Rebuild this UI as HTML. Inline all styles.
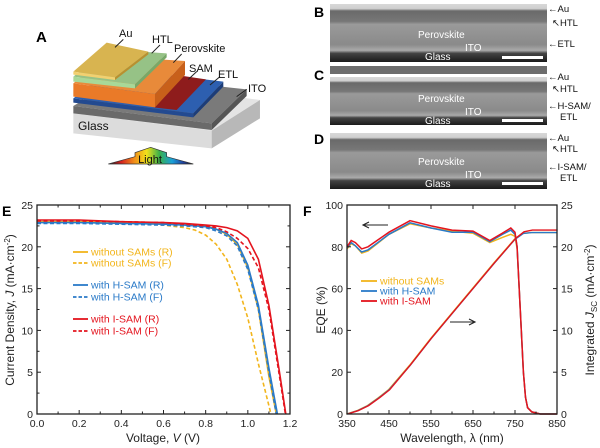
<!DOCTYPE html>
<html><head><meta charset="utf-8">
<style>
html,body{margin:0;padding:0;background:#fff;}
svg{display:block;font-family:"Liberation Sans",Arial,sans-serif;}
</style></head>
<body>
<svg id="fig" width="600" height="448" viewBox="0 0 600 448" xmlns="http://www.w3.org/2000/svg">
<defs>
<linearGradient id="rainbow" x1="0" x2="1" y1="0" y2="0">
<stop offset="0" stop-color="#1a1a1a"/><stop offset="0.15" stop-color="#d42020"/><stop offset="0.3" stop-color="#f08a1a"/><stop offset="0.45" stop-color="#f2e21a"/><stop offset="0.6" stop-color="#3ab04a"/><stop offset="0.75" stop-color="#1aa0d8"/><stop offset="0.88" stop-color="#2040a0"/><stop offset="1" stop-color="#1a1a1a"/>
</linearGradient>
<linearGradient id="semB" x1="0" y1="0" x2="0" y2="1">
<stop offset="0" stop-color="#d8d8d8"/><stop offset="0.08" stop-color="#cfcfcf"/><stop offset="0.12" stop-color="#6a6a6a"/><stop offset="0.3" stop-color="#777"/><stop offset="0.35" stop-color="#9a9a9a"/><stop offset="0.7" stop-color="#8a8a8a"/><stop offset="0.8" stop-color="#aaa"/><stop offset="0.85" stop-color="#444"/><stop offset="1" stop-color="#1a1a1a"/>
</linearGradient>
</defs>

<!-- Panel A -->
<g>
<text x="36" y="42" font-size="15" font-weight="bold">A</text>
<g transform="translate(30,0) scale(0.3333)">
<polygon points="130,340 285,245 690,300 545,392" fill="#e4e4e4"/>
<polygon points="130,340 545,392 545,445 130,400" fill="#dcdcdc"/>
<polygon points="545,392 690,300 690,355 545,445" fill="#b8b8b8"/>
<polygon points="130,318 280,228 650,268 545,370" fill="#7a7a7a"/>
<polygon points="130,318 545,370 545,390 130,340" fill="#6a6a6a"/>
<polygon points="545,370 650,268 650,288 545,390" fill="#555"/>
<polygon points="130,295 250,205 580,245 490,340" fill="#2d5fb0"/>
<polygon points="130,295 490,340 490,352 130,308" fill="#234a90"/>
<polygon points="490,340 580,245 580,260 490,352" fill="#1d3d78"/>
<polygon points="370,322 460,228 528,238 440,330" fill="#8e1c1c"/>
<polygon points="130,250 230,168 465,183 375,282" fill="#e88a3a"/>
<polygon points="130,250 375,282 375,322 130,290" fill="#ea7a28"/>
<polygon points="375,282 465,183 465,225 375,322" fill="#c8601a"/>
<polygon points="130,230 230,148 410,160 315,253" fill="#96c286"/>
<polygon points="130,230 315,253 315,265 130,245" fill="#a8d898"/>
<polygon points="315,253 410,160 410,172 315,265" fill="#78a868"/>
<polygon points="130,215 230,128 355,155 255,232" fill="#d8b450"/>
<polygon points="130,215 255,232 255,240 130,224" fill="#f2d070"/>
<polygon points="255,232 355,155 355,163 255,240" fill="#b89030"/>
<g stroke="#222" stroke-width="3">
<line x1="255" y1="142" x2="280" y2="118"/><line x1="365" y1="160" x2="390" y2="135"/>
<line x1="430" y1="188" x2="455" y2="162"/><line x1="475" y1="238" x2="500" y2="215"/>
<line x1="540" y1="255" x2="570" y2="230"/><line x1="620" y1="290" x2="650" y2="268"/>
</g>
<polygon points="235,492 315,470 315,458 362,442 410,458 410,470 490,492" fill="url(#rainbow)" stroke="#333" stroke-width="2"/>
</g>
<g font-size="11" fill="#111">
<text x="119" y="37">Au</text>
<text x="152" y="43">HTL</text>
<text x="174" y="52">Perovskite</text>
<text x="189" y="72">SAM</text>
<text x="218" y="78">ETL</text>
<text x="248" y="92">ITO</text>
<text x="78" y="130" font-size="12">Glass</text>
<text x="150" y="163" font-size="11" text-anchor="middle">Light</text>
</g>
</g>

<!-- Panels B-D SEM -->
<g font-size="9.5">
<text x="314" y="17" font-size="14" font-weight="bold">B</text>
<text x="314" y="80" font-size="14" font-weight="bold">C</text>
<text x="314" y="144" font-size="14" font-weight="bold">D</text>
<rect x="330" y="4" width="217" height="58" fill="url(#semB)"/>
<rect x="330" y="66" width="217" height="8" fill="#6c6c6c"/>
<rect x="330" y="77" width="217" height="48" fill="url(#semB)"/>
<rect x="330" y="133" width="217" height="56" fill="url(#semB)"/>
<g fill="#fff">
<text x="418" y="38" font-size="10">Perovskite</text><text x="465" y="51" font-size="10">ITO</text><text x="425" y="60" font-size="10">Glass</text>
<text x="418" y="102" font-size="10">Perovskite</text><text x="465" y="115" font-size="10">ITO</text><text x="425" y="124" font-size="10">Glass</text>
<text x="418" y="165" font-size="10">Perovskite</text><text x="465" y="178" font-size="10">ITO</text><text x="425" y="187" font-size="10">Glass</text>
<rect x="502" y="56" width="41" height="3"/><rect x="502" y="119" width="41" height="3"/><rect x="502" y="182" width="41" height="3"/>
</g>
<g fill="#111">
<text x="548" y="12">←Au</text><text x="552" y="26">↖HTL</text><text x="548" y="47">←ETL</text>
<text x="548" y="80">←Au</text><text x="552" y="92">↖HTL</text><text x="548" y="109">←H-SAM/</text><text x="560" y="120">ETL</text>
<text x="548" y="141">←Au</text><text x="552" y="152">↖HTL</text><text x="548" y="170">←I-SAM/</text><text x="560" y="181">ETL</text>
</g>
</g>

<!-- Panel E -->
<g id="panelE"></g>
<!-- Panel F -->
<g id="panelF"></g>
</svg>
<script>
// ---- Panel E data ----
const eTitle = "E";
const eXTicks = [0.0,0.2,0.4,0.6,0.8,1.0,1.2];
const eYTicks = [0,5,10,15,20,25];
const vNoSamR = [0,0.2,0.4,0.6,0.7,0.8,0.85,0.9,0.95,1.0,1.05,1.1,1.135];
const jNoSamR = [23.0,23.0,22.9,22.8,22.7,22.5,22.1,21.5,20.3,17.5,12.5,4.5,0];
const vNoSamF = [0,0.2,0.4,0.6,0.7,0.75,0.8,0.85,0.9,0.95,1.0,1.05,1.08,1.11];
const jNoSamF = [22.9,22.9,22.8,22.6,22.3,22.0,21.4,20.3,18.5,15.5,11.5,6,3,0];
const vHSamR = [0,0.2,0.4,0.6,0.7,0.8,0.85,0.9,0.95,1.0,1.05,1.1,1.14];
const jHSamR = [22.9,22.9,22.8,22.7,22.6,22.4,22.1,21.6,20.5,17.8,13,5.5,0];
const vHSamF = [0,0.2,0.4,0.6,0.7,0.8,0.85,0.9,0.95,1.0,1.05,1.1,1.135];
const jHSamF = [22.8,22.8,22.7,22.6,22.5,22.3,21.9,21.3,20.1,17.3,12.5,5,0];
const vISamR = [0,0.2,0.4,0.6,0.7,0.8,0.85,0.9,0.95,1.0,1.05,1.1,1.15,1.18];
const jISamR = [23.2,23.2,23.0,22.9,22.8,22.6,22.5,22.3,21.9,21.0,18.5,13,5,0];
const vISamF = [0,0.2,0.4,0.6,0.7,0.8,0.85,0.9,0.95,1.0,1.05,1.1,1.15,1.178];
const jISamF = [23.1,23.1,23.0,22.9,22.7,22.5,22.3,21.8,21.0,19.8,17.5,12.5,4.5,0];
const eLegend = ["without SAMs (R)","without SAMs (F)","with H-SAM (R)","with H-SAM (F)","with I-SAM (R)","with I-SAM (F)"];

// ---- Panel F data ----
const fXTicks = [350,450,550,650,750,850];
const fYTicksL = [0,20,40,60,80,100];
const fYTicksR = [0,5,10,15,20,25];
const wlEqe = [350,360,370,385,400,450,500,550,600,650,690,720,740,750,755,760,765,770,775,780,790,810,850];
const eqeNoSam = [79,81.5,80.5,77,78,86,91,89,87.5,86.5,82,84.5,86,85,79,60,40,20,8,3,1,0,0];
const eqeHSam = [79.5,82,80.5,77.5,78.5,86,91.5,89,87,87,82.5,86,88,86,80,60,40,20,8,3,1,0,0];
const eqeISam = [80,83,82,79,80,87,92.5,90,88,87.5,83,86.5,89,87,80,60,40,20,8,3,1,0,0];
const wlInt = [350,375,400,425,450,500,550,600,650,700,750,770,790,850];
const intNoSam = [0,0.4,1.0,1.9,2.9,5.8,9.0,12.0,15.0,18.0,20.9,21.6,21.7,21.7];
const intHSam = [0,0.4,1.0,1.9,2.9,5.8,9.0,12.0,15.0,18.0,20.9,21.6,21.7,21.7];
const intISam = [0,0.4,1.0,1.9,2.9,5.9,9.1,12.1,15.1,18.1,21.0,21.8,22.0,22.0];
const fLegend = ["without SAMs","with H-SAM","with I-SAM"];

const NS="http://www.w3.org/2000/svg";
const YEL="#f2b51c", BLU="#2a7ac8", RED="#e4141e";
function mk(parent,tag,attrs,text){const el=document.createElementNS(NS,tag);for(const k in attrs)el.setAttribute(k,attrs[k]);if(text!==undefined)el.textContent=text;parent.appendChild(el);return el;}

// ---- draw E ----
(function(){
const g=document.getElementById('panelE');
const L=37,R=290,T=205,B=414;
const xs=v=>L+(v-0)/1.2*(R-L), ys=j=>B-(j/25)*(B-T);
let t=mk(g,'text',{x:2,y:216,'font-size':14,'font-weight':'bold'},eTitle);


const series=[[vNoSamR,jNoSamR,YEL,''],[vNoSamF,jNoSamF,YEL,'4,2.5'],[vHSamR,jHSamR,BLU,''],[vHSamF,jHSamF,BLU,'4,2.5'],[vISamF,jISamF,RED,'4,2.5'],[vISamR,jISamR,RED,'']];
const names=['jv-without-sams-r','jv-without-sams-f','jv-h-sam-r','jv-h-sam-f','jv-i-sam-f','jv-i-sam-r'];
series.forEach((s,i)=>{
 const d=s[0].map((v,k)=>(k?'L':'M')+xs(v).toFixed(1)+','+ys(s[1][k]).toFixed(1)).join(' ');
 const p=mk(g,'path',{d:d,fill:'none',stroke:s[2],'stroke-width':1.6,'stroke-dasharray':s[3]||'none'});
 
 
});
const fr=mk(g,'rect',{x:L,y:T,width:R-L,height:B-T,fill:'none',stroke:'#222','stroke-width':1.3});


eXTicks.forEach(v=>{const x=xs(v);mk(g,'line',{x1:x,y1:B,x2:x,y2:B-4,stroke:'#222'});mk(g,'line',{x1:x,y1:T,x2:x,y2:T+4,stroke:'#222'});
 const tl=mk(g,'text',{x:x,y:B+13,'font-size':10.5,'text-anchor':'middle',fill:'#222'},v.toFixed(1));
 
 });
for(let v=0.1;v<1.2;v+=0.2){const x=xs(v);mk(g,'line',{x1:x,y1:B,x2:x,y2:B-2.5,stroke:'#222'});mk(g,'line',{x1:x,y1:T,x2:x,y2:T+2.5,stroke:'#222'});}
eYTicks.forEach(v=>{const y=ys(v);mk(g,'line',{x1:L,y1:y,x2:L+4,y2:y,stroke:'#222'});mk(g,'line',{x1:R,y1:y,x2:R-4,y2:y,stroke:'#222'});
 const tl=mk(g,'text',{x:L-4,y:y+4,'font-size':10.5,'text-anchor':'end',fill:'#222'},String(v));
 
 });
for(let v=2.5;v<25;v+=5){const y=ys(v);mk(g,'line',{x1:L,y1:y,x2:L+2.5,y2:y,stroke:'#222'});mk(g,'line',{x1:R,y1:y,x2:R-2.5,y2:y,stroke:'#222'});}
const xl=mk(g,'text',{x:163,y:442,'font-size':12,'text-anchor':'middle',fill:'#222'});
xl.innerHTML='Voltage, <tspan font-style="italic">V</tspan> (V)';


const yl=mk(g,'text',{x:0,y:0,'font-size':12,'text-anchor':'middle',fill:'#222',transform:'translate(14,310) rotate(-90)'});
yl.innerHTML='Current Density, <tspan font-style="italic">J</tspan> (mA·cm<tspan font-size="8" dy="-4">-2</tspan><tspan dy="4">)</tspan>';


const ly=[252,263,285,297,319,331], lc=[YEL,YEL,BLU,BLU,RED,RED];
eLegend.forEach((s,i)=>{
 const dash=(i%2)?'3.5,2':'none';
 const ln=mk(g,'line',{x1:73,y1:ly[i],x2:88,y2:ly[i],stroke:lc[i],'stroke-width':1.8,'stroke-dasharray':dash});
 
 
 const tx=mk(g,'text',{x:91,y:ly[i]+3.5,'font-size':10.5,fill:lc[i]},s);
 
 
});
})();

// ---- draw F ----
(function(){
const g=document.getElementById('panelF');
const L=347,R=557,T=205,B=414;
const xs=w=>L+(w-350)/500*(R-L), yl=e=>B-e/100*(B-T), yr=j=>B-j/25*(B-T);
let t=mk(g,'text',{x:303,y:216,'font-size':14,'font-weight':'bold'},'F');


const eq=[[eqeNoSam,YEL,'eqe-without-sams'],[eqeHSam,BLU,'eqe-h-sam'],[eqeISam,RED,'eqe-i-sam']];
eq.forEach(s=>{const d=wlEqe.map((w,k)=>(k?'L':'M')+xs(w).toFixed(1)+','+yl(s[0][k]).toFixed(1)).join(' ');
 const p=mk(g,'path',{d:d,fill:'none',stroke:s[1],'stroke-width':1.5});
 
 });
const it=[[intNoSam,YEL,'integrated-jsc-without-sams'],[intHSam,BLU,'integrated-jsc-h-sam'],[intISam,RED,'integrated-jsc-i-sam']];
it.forEach((s,i)=>{const d=wlInt.map((w,k)=>(k?'L':'M')+(xs(w)+(i-1)*0.6).toFixed(1)+','+yr(s[0][k]).toFixed(1)).join(' ');
 const p=mk(g,'path',{d:d,fill:'none',stroke:s[1],'stroke-width':1.4});
 
 });
const fr=mk(g,'rect',{x:L,y:T,width:R-L,height:B-T,fill:'none',stroke:'#222','stroke-width':1.3});


fXTicks.forEach(w=>{const x=xs(w);mk(g,'line',{x1:x,y1:B,x2:x,y2:B-4,stroke:'#222'});mk(g,'line',{x1:x,y1:T,x2:x,y2:T+4,stroke:'#222'});
 const tl=mk(g,'text',{x:x,y:B+13,'font-size':10.5,'text-anchor':'middle',fill:'#222'},String(w));
 
 });
for(let w=400;w<850;w+=100){const x=xs(w);mk(g,'line',{x1:x,y1:B,x2:x,y2:B-2.5,stroke:'#222'});}
fYTicksL.forEach(v=>{const y=yl(v);mk(g,'line',{x1:L,y1:y,x2:L+4,y2:y,stroke:'#222'});
 const tl=mk(g,'text',{x:L-4,y:y+4,'font-size':10.5,'text-anchor':'end',fill:'#222'},String(v));
 
 });
fYTicksR.forEach(v=>{const y=yr(v);mk(g,'line',{x1:R,y1:y,x2:R-4,y2:y,stroke:'#222'});
 const tl=mk(g,'text',{x:R+4,y:y+4,'font-size':10.5,'text-anchor':'start',fill:'#222'},String(v));
 
 });
const xt=mk(g,'text',{x:452,y:442,'font-size':12,'text-anchor':'middle',fill:'#222'},'Wavelength, λ (nm)');


const ytl=mk(g,'text',{x:0,y:0,'font-size':12,'text-anchor':'middle',fill:'#222',transform:'translate(325,310) rotate(-90)'},'EQE (%)');


const ytr=mk(g,'text',{x:0,y:0,'font-size':12,'text-anchor':'middle',fill:'#222',transform:'translate(594,310) rotate(-90)'});
ytr.innerHTML='Integrated <tspan font-style="italic">J</tspan><tspan font-size="8" dy="3">SC</tspan><tspan dy="-3"> (mA·cm</tspan><tspan font-size="8" dy="-4">-2</tspan><tspan dy="4">)</tspan>';


const a1=mk(g,'path',{d:'M388,225 L364,225 M369,222 L363,225 L369,228',stroke:'#222',fill:'none','stroke-width':1.1});


const a2=mk(g,'path',{d:'M450,322 L475,322 M469,319 L475,322 L469,325',stroke:'#222',fill:'none','stroke-width':1.1});


const fy=[281,291,301], fc=[YEL,BLU,RED];
fLegend.forEach((s,i)=>{
 const ln=mk(g,'line',{x1:361,y1:fy[i],x2:377,y2:fy[i],stroke:fc[i],'stroke-width':1.8});
 
 
 const tx=mk(g,'text',{x:380,y:fy[i]+3.5,'font-size':10.5,fill:fc[i]},s);
 
 
});
})();
</script>
</body></html>
